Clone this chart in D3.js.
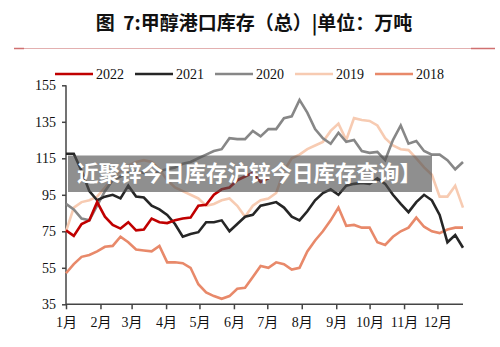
<!DOCTYPE html>
<html>
<head>
<meta charset="utf-8">
<script src="https://cdn.jsdelivr.net/npm/d3@7"></script>
<style>
  body { margin: 0; background: #fff; }
  svg { display: block; }
</style>
</head>
<body>
<svg id="chart" width="500" height="347"></svg>
<script>
'use strict'

// weekly port inventory, one value per week (week 0 = first week of Jan)
const years = ['2022', '2021', '2020', '2019', '2018']
const colors = ['#c00000', '#262626', '#878787', '#f7cbb2', '#e8896a']

const s2022 = [75.5, 72.5, 79, 81, 91, 83, 78.5, 76.5, 80, 75.5, 76, 82, 80, 79.5, 81, 82,
  82.5, 89, 89.5, 95, 98, 99, 103, 105, 107, 102, 104]
const s2021 = [117.5, 117.5, 108, 97, 92, 94, 95, 93, 100, 94, 93.5, 89, 87, 84, 79, 72,
  73.5, 74.5, 80, 80, 81, 75, 79, 83, 84, 89, 90, 91, 88, 83, 81, 86, 92, 96, 98, 95,
  100, 101, 101.5, 101, 104, 101, 95, 90, 85.5, 91, 95, 92, 84, 69, 73, 66]
const s2020 = [90, 87, 82, 81, 89, 97, 103, 105, 107, 108, 107, 106, 108, 109, 110, 112,
  113, 115, 117, 119, 120, 126, 125.5, 125.5, 130, 127, 131, 131, 137, 138, 147, 140,
  131, 126, 123, 129, 124, 125, 119, 118, 118.5, 114, 125, 133, 123, 124.5, 119, 117,
  117, 114, 109, 113]
const s2019 = [75, 88, 91, 92, 94, 99, 104, 108, 111, 113, 114, 113, 109, 103, 99, 97,
  95, 93, 89, 90, 92, 93, 89, 83, 89, 92, 93, 96, 108, 115, 117, 120, 122, 124, 130,
  134, 125, 137, 136, 135.5, 133, 126, 122, 120, 119.5, 115, 110, 106, 94, 94, 100, 88]
const s2018 = [52, 57, 61, 62, 64, 66.5, 67, 72, 69, 65, 64.5, 64, 67, 58, 58, 57.5,
  55, 46, 41.5, 39.5, 38, 39.5, 43.5, 44, 50, 56, 55, 58, 57, 54, 55, 64, 70, 75, 81,
  88, 78, 78.5, 77, 77, 69, 67.5, 72, 75, 77, 82.5, 77.5, 75, 74, 76, 77, 77]
const series = [s2022, s2021, s2020, s2019, s2018]

const monthLabels = ['1月', '2月', '3月', '4月', '5月', '6月', '7月', '8月', '9月', '10月', '11月', '12月']
const monthStartDay = [0, 31, 59, 90, 120, 151, 181, 212, 243, 273, 304, 334]
const yTicks = [35, 55, 75, 95, 115, 135, 155]

const titleText = '图  7:甲醇港口库存（总）|单位：万吨'
const bannerText = '近聚锌今日库存沪锌今日库存查询】'

const svg = d3.select('#chart')
const serif = '"Liberation Serif", "Noto Sans CJK SC", serif'

// title + red rule
svg.append('text')
  .attr('x', 254).attr('y', 30)
  .attr('text-anchor', 'middle')
  .style('white-space', 'pre')
  .style('font-family', '"Noto Sans CJK SC", sans-serif')
  .style('font-weight', 'bold')
  .style('font-size', '19px')
  .attr('fill', '#111')
  .text(titleText)

svg.append('line')
  .attr('x1', 14).attr('x2', 495).attr('y1', 48.5).attr('y2', 48.5)
  .attr('stroke', '#e3b0b0').attr('stroke-width', 1.2)
svg.append('line')
  .attr('x1', 14).attr('x2', 24).attr('y1', 48.5).attr('y2', 48.5)
  .attr('stroke', '#d07070').attr('stroke-width', 1.5)
svg.append('line')
  .attr('x1', 471).attr('x2', 495).attr('y1', 48.5).attr('y2', 48.5)
  .attr('stroke', '#d07070').attr('stroke-width', 1.5)

// scales
const x = d3.scaleLinear().domain([0, 51]).range([66, 463])
const y = d3.scaleLinear().domain([35, 155]).range([304.3, 85.3])

// y axis
const yAxis = svg.append('g')
  .attr('transform', 'translate(66,0)')
  .call(d3.axisLeft(y).tickValues(yTicks).tickSize(4).tickPadding(6))
yAxis.selectAll('text')
  .style('font-family', serif).style('font-size', '14px').attr('fill', '#111')

// x axis, ticks at month starts
const xAxis = svg.append('g')
  .attr('transform', 'translate(0,304.3)')
  .call(d3.axisBottom(x)
    .tickValues(monthStartDay.map(d => d / 7))
    .tickFormat((d, i) => monthLabels[i])
    .tickSize(5).tickPadding(8))
xAxis.selectAll('text')
  .style('font-family', serif).style('font-size', '14px').attr('fill', '#111')

svg.selectAll('.domain, .tick line')
  .attr('stroke', '#444').attr('stroke-width', 1.5)
yAxis.select('.domain').attr('d', 'M0,85.3V304.3')
xAxis.select('.domain').attr('d', 'M66,0H463')

// lines, 2018 at the bottom and 2022 on top
const line = d3.line()
  .x((d, i) => x(i))
  .y(d => y(d))

for (let k = series.length - 1; k >= 0; k--) {
  svg.append('path')
    .datum(series[k])
    .attr('d', line)
    .attr('fill', 'none')
    .attr('stroke', colors[k])
    .attr('stroke-width', 2.6)
    .attr('stroke-linejoin', 'miter')
}

// legend
const legend = svg.selectAll('.legend')
  .data(years)
  .enter().append('g')
  .attr('transform', (d, i) => 'translate(' + (55 + i * 80) + ',74)')

legend.append('line')
  .attr('x1', 0).attr('x2', 38)
  .attr('stroke', (d, i) => colors[i])
  .attr('stroke-width', 2.6)
legend.append('text')
  .attr('x', 41).attr('y', 5)
  .style('font-family', serif).style('font-size', '14px')
  .attr('fill', '#111')
  .text(d => d)

// overlay banner
svg.append('rect')
  .attr('x', 68).attr('y', 155.5).attr('width', 364).attr('height', 36.5)
  .attr('fill', 'rgb(80,80,80)').attr('fill-opacity', 0.64)
svg.append('text')
  .attr('x', 77).attr('y', 181)
  .style('font-family', '"Noto Sans CJK SC", sans-serif')
  .style('font-weight', 'bold')
  .style('font-size', '21.5px')
  .attr('fill', '#fff')
  .text(bannerText)
</script>
</body>
</html>
